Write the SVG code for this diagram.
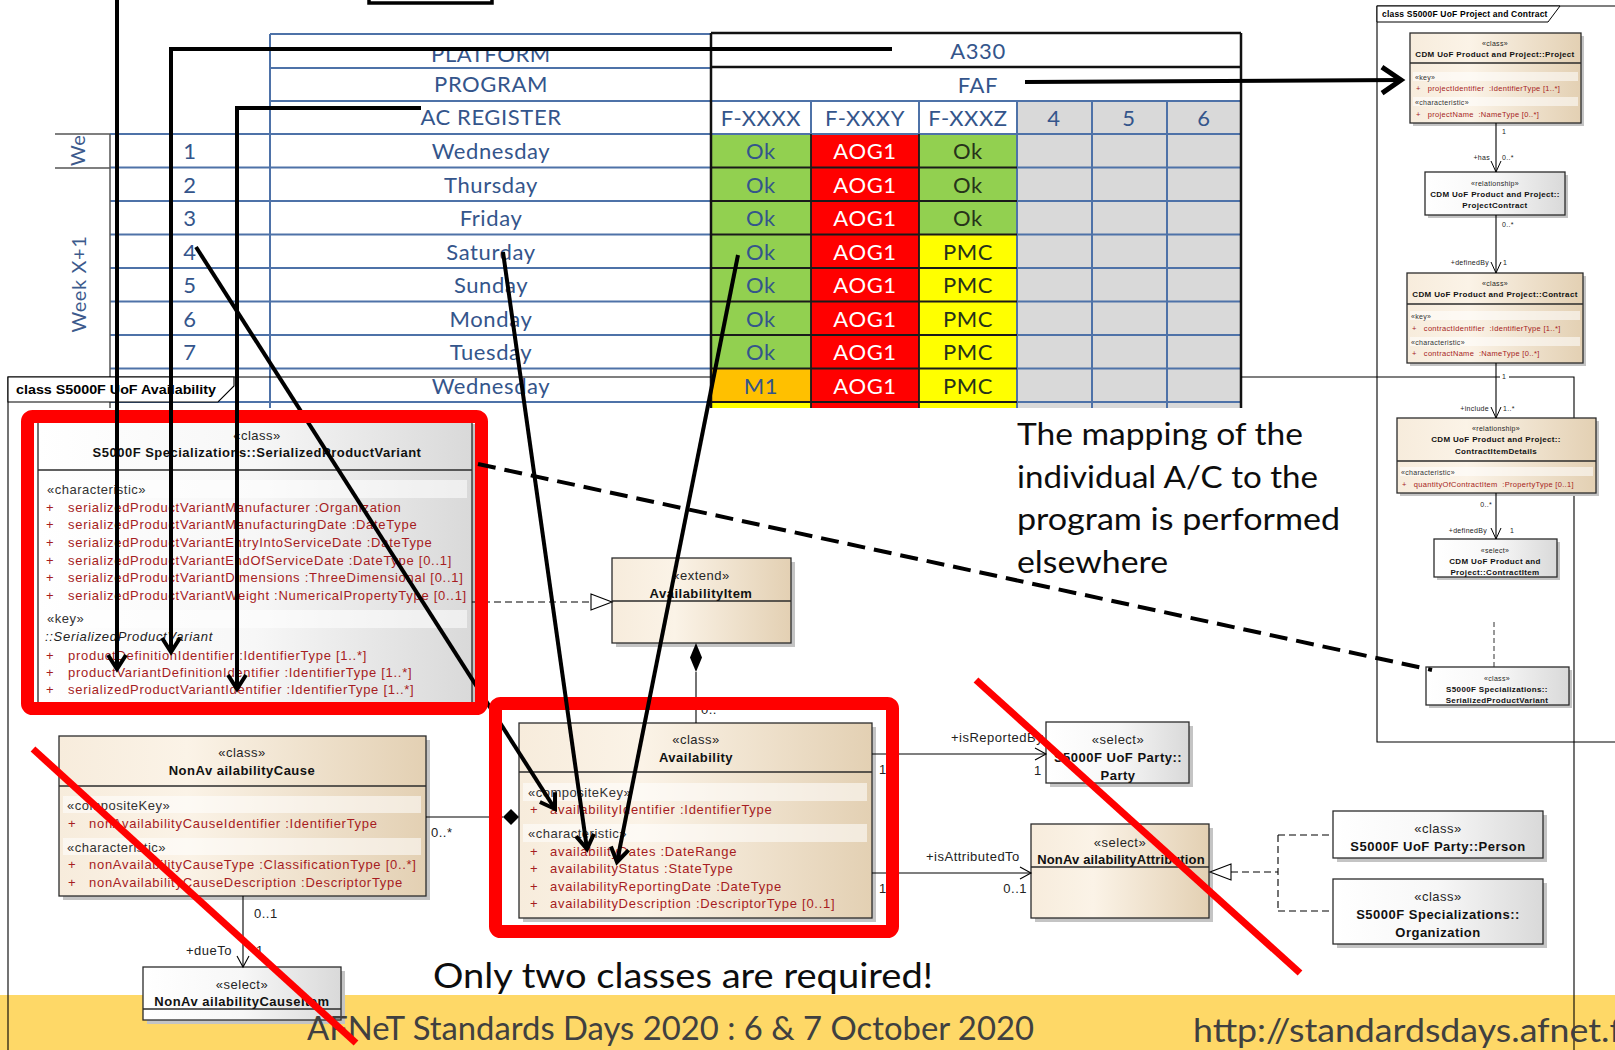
<svg xmlns="http://www.w3.org/2000/svg" width="1615" height="1050" viewBox="0 0 1615 1050">
<defs>
<style>
.tb{font-family:Lato,"Open Sans",sans-serif;font-size:22px;fill:#34558B;text-anchor:middle;letter-spacing:0.6px}
.tw{fill:#fff}
.tk{fill:#27331A}
.u{font-family:"Liberation Sans",Arial,sans-serif;font-size:13px;letter-spacing:0.5px}
.s{fill:#262626;text-anchor:middle}
.n{font-weight:bold;fill:#111;text-anchor:middle}
.c{fill:#333}
.a{fill:#A61C22;white-space:pre;letter-spacing:0.72px}
.l{fill:#222}
.r{text-anchor:end}
.sm{font-size:7.5px;letter-spacing:0.3px}
.ss{font-size:7px;letter-spacing:0.3px}
.sb{font-size:8px;font-weight:bold;fill:#111;text-anchor:middle;letter-spacing:0.35px}
.bx{stroke:#2b2b2b;stroke-width:1.3}
.sh{fill:#c4c4c4}
.band{fill:#fff;opacity:.55}
.gl{stroke:#4E72A8;stroke-width:2;fill:none}
.dk{stroke:#1a1a1a;stroke-width:1.8;fill:none}
.blk{stroke:#000;stroke-width:4;fill:none}
.thin{stroke:#000;stroke-width:1.1;fill:none}
.dash{stroke:#000;stroke-width:1.1;fill:none;stroke-dasharray:7 4}
.red{fill:none;stroke:#FF0000;stroke-width:13}
.rx{stroke:#FF0000;stroke-width:7;stroke-linecap:butt}
.big{font-family:Lato,"Open Sans",sans-serif;fill:#0d0d0d}
</style>
<linearGradient id="be" x1="0" y1="0" x2="1" y2="0">
<stop offset="0" stop-color="#F7ECDC"/><stop offset="0.35" stop-color="#FBF3E7"/><stop offset="1" stop-color="#E3D0B3"/>
</linearGradient>
<linearGradient id="gr" x1="0" y1="0" x2="1" y2="0">
<stop offset="0" stop-color="#FFFFFF"/><stop offset="0.5" stop-color="#F7F7F7"/><stop offset="1" stop-color="#D9D9D9"/>
</linearGradient>
<marker id="ah" viewBox="-18 -12 22 24" refX="0" refY="0" markerWidth="22" markerHeight="24" markerUnits="userSpaceOnUse" orient="auto">
<path d="M-14,-9 L0,0 L-14,9" fill="none" stroke="#000" stroke-width="4"/>
</marker>
<marker id="ahb" viewBox="-24 -16 28 32" refX="0" refY="0" markerWidth="28" markerHeight="32" markerUnits="userSpaceOnUse" orient="auto">
<path d="M-20,-13 L-1,0 L-20,13" fill="none" stroke="#000" stroke-width="5"/>
</marker>
<marker id="oa" viewBox="-13 -8 15 16" refX="0" refY="0" markerWidth="15" markerHeight="16" markerUnits="userSpaceOnUse" orient="auto">
<path d="M-11,-6 L0,0 L-11,6" fill="none" stroke="#000" stroke-width="1.1"/>
</marker>
<marker id="os" viewBox="-12 -7 14 14" refX="0" refY="0" markerWidth="14" markerHeight="14" markerUnits="userSpaceOnUse" orient="auto">
<path d="M-11,-5 L0,0 L-11,5" fill="none" stroke="#000" stroke-width="1"/>
</marker>
<clipPath id="weclip"><rect x="55" y="135" width="55" height="33"/></clipPath>
</defs>

<rect x="0" y="0" width="1615" height="1050" fill="#fff"/>
<!-- footer band -->
<rect x="0" y="995" width="1615" height="55" fill="#FED867"/>

<!-- availability planning sheet -->
<g id="sheet">
<rect x="1017" y="101" width="224" height="33" fill="#D9D9D9"/>
<rect x="711" y="134" width="100" height="234.5" fill="#92D050"/>
<rect x="711" y="368.5" width="100" height="33.5" fill="#FFC000"/>
<rect x="711" y="402" width="100" height="6" fill="#FFFF00"/>
<rect x="811" y="134" width="108" height="274" fill="#FF0000"/>
<rect x="919" y="134" width="98" height="100.5" fill="#92D050"/>
<rect x="919" y="234.5" width="98" height="173.5" fill="#FFFF00"/>
<rect x="1017" y="134" width="224" height="274" fill="#D9D9D9"/>
<path class="gl" d="M270,34H711 M270,68H711 M270,101H1241 M110,134H1241 M110,167.5H711 M110,201H711 M110,234.5H711 M110,268H711 M110,301.5H711 M110,335H711 M110,368.5H711 M110,402H711 M1017,167.5H1241 M1017,201H1241 M1017,234.5H1241 M1017,268H1241 M1017,301.5H1241 M1017,335H1241 M1017,368.5H1241 M1017,402H1241 M270,34V408 M811,101V134 M919,101V134 M1017,101V408 M1092,101V408 M1167,101V408"/>
<path class="dk" d="M711,167.5H1017 M711,201H1017 M711,234.5H1017 M711,268H1017 M711,301.5H1017 M711,335H1017 M711,368.5H1017 M711,402H1017 M811,134V408 M919,134V408"/>
<path d="M55,134H110 M55,168H110 M110,134V408" stroke="#555" stroke-width="1.5" fill="none"/>
<path d="M711,33V408 M1241,33V408 M711,33H1241 M711,67H1241" stroke="#111" stroke-width="2.5" fill="none"/>
<g clip-path="url(#weclip)"><text class="tb" style="font-size:20px;text-anchor:start;fill:#3C5A8C" transform="translate(85,166) rotate(-90)">Week X</text></g>
<text class="tb" style="font-size:20px;fill:#3C5A8C" transform="translate(86,284) rotate(-90)">Week X+1</text>
<text class="tb" x="491" y="62">PLATFORM</text>
<text class="tb" x="491" y="92">PROGRAM</text>
<text class="tb" x="491" y="125">AC REGISTER</text>
<text class="tb" x="978" y="59">A330</text>
<text class="tb" x="978" y="93">FAF</text>
<text class="tb" x="761" y="126">F-XXXX</text>
<text class="tb" x="865" y="126">F-XXXY</text>
<text class="tb" x="968" y="126">F-XXXZ</text>
<text class="tb" x="1054" y="126">4</text>
<text class="tb" x="1129" y="126">5</text>
<text class="tb" x="1204" y="126">6</text>
<text class="tb" x="190" y="159">1</text>
<text class="tb" x="190" y="192.5">2</text>
<text class="tb" x="190" y="226">3</text>
<text class="tb" x="190" y="259.5">4</text>
<text class="tb" x="190" y="293">5</text>
<text class="tb" x="190" y="326.5">6</text>
<text class="tb" x="190" y="360">7</text>
<text class="tb" x="491" y="159">Wednesday</text>
<text class="tb" x="491" y="192.5">Thursday</text>
<text class="tb" x="491" y="226">Friday</text>
<text class="tb" x="491" y="259.5">Saturday</text>
<text class="tb" x="491" y="293">Sunday</text>
<text class="tb" x="491" y="326.5">Monday</text>
<text class="tb" x="491" y="360">Tuesday</text>
<text class="tb" x="491" y="393.5">Wednesday</text>
<text class="tb" x="761" y="159">Ok</text>
<text class="tb" x="761" y="192.5">Ok</text>
<text class="tb" x="761" y="226">Ok</text>
<text class="tb" x="761" y="259.5">Ok</text>
<text class="tb" x="761" y="293">Ok</text>
<text class="tb" x="761" y="326.5">Ok</text>
<text class="tb" x="761" y="360">Ok</text>
<text class="tb" x="761" y="393.5">M1</text>
<text class="tb tw" x="865" y="159">AOG1</text>
<text class="tb tw" x="865" y="192.5">AOG1</text>
<text class="tb tw" x="865" y="226">AOG1</text>
<text class="tb tw" x="865" y="259.5">AOG1</text>
<text class="tb tw" x="865" y="293">AOG1</text>
<text class="tb tw" x="865" y="326.5">AOG1</text>
<text class="tb tw" x="865" y="360">AOG1</text>
<text class="tb tw" x="865" y="393.5">AOG1</text>
<text class="tb tk" x="968" y="159">Ok</text>
<text class="tb tk" x="968" y="192.5">Ok</text>
<text class="tb tk" x="968" y="226">Ok</text>
<text class="tb tk" x="968" y="259.5">PMC</text>
<text class="tb tk" x="968" y="293">PMC</text>
<text class="tb tk" x="968" y="326.5">PMC</text>
<text class="tb tk" x="968" y="360">PMC</text>
<text class="tb tk" x="968" y="393.5">PMC</text>
</g>

<!-- frame: class S5000F UoF Availability -->
<g id="frame-availability">
<path class="thin" d="M8,1050V377H711 M1241,377H1574V1050"/>
<path d="M8,377H234V386L218,402H8Z" fill="#fff" stroke="#000" stroke-width="1.1"/>
<text class="u" x="16" y="394" style="font-size:12px;font-weight:bold;letter-spacing:0" textLength="200" lengthAdjust="spacingAndGlyphs">class S5000F UoF Availability</text>
</g>

<!-- frame: class S5000F UoF Project and Contract -->
<g id="frame-project">
<path class="thin" d="M1615,6H1377V742H1615"/>
<path d="M1377,6H1560L1548,22H1377Z" fill="#fff" stroke="#000" stroke-width="1"/>
<text class="u" x="1382" y="17" style="font-size:8.5px;font-weight:bold;letter-spacing:0.2px">class S5000F UoF Project and Contract</text>
</g>

<g id="project">
<rect class="sh" x="1413" y="36" width="171" height="90"/>
<rect x="1410" y="33" width="171" height="90" fill="url(#be)" class="bx"/>
<line x1="1410" y1="63" x2="1581" y2="63" class="bx"/>
<rect x="1413" y="72" width="165" height="9" class="band"/>
<rect x="1413" y="97" width="165" height="9" class="band"/>
<text class="u ss s" x="1495" y="46">«class»</text>
<text class="u sb" x="1495" y="57">CDM UoF Product and Project::Project</text>
<text class="u ss c" x="1415" y="80">«key»</text>
<text class="u sm a" x="1416" y="91" xml:space="preserve">+   projectIdentifier  :IdentifierType [1..*]</text>
<text class="u ss c" x="1415" y="105">«characteristic»</text>
<text class="u sm a" x="1416" y="117" xml:space="preserve">+   projectName  :NameType [0..*]</text>
</g>
<g id="project-contract">
<rect class="sh" x="1428" y="175" width="140" height="43"/>
<rect x="1425" y="172" width="140" height="43" fill="url(#gr)" class="bx"/>
<text class="u ss s" x="1495" y="186">«relationship»</text>
<text class="u sb" x="1495" y="197">CDM UoF Product and Project::</text>
<text class="u sb" x="1495" y="208">ProjectContract</text>
</g>
<g id="contract">
<rect class="sh" x="1410" y="276" width="176" height="90"/>
<rect x="1407" y="273" width="176" height="90" fill="url(#be)" class="bx"/>
<line x1="1407" y1="304" x2="1583" y2="304" class="bx"/>
<rect x="1410" y="311" width="170" height="9" class="band"/>
<rect x="1410" y="337" width="170" height="9" class="band"/>
<text class="u ss s" x="1495" y="286">«class»</text>
<text class="u sb" x="1495" y="297">CDM UoF Product and Project::Contract</text>
<text class="u ss c" x="1411" y="319">«key»</text>
<text class="u sm a" x="1412" y="331" xml:space="preserve">+   contractIdentifier  :IdentifierType [1..*]</text>
<text class="u ss c" x="1411" y="345">«characteristic»</text>
<text class="u sm a" x="1412" y="356" xml:space="preserve">+   contractName  :NameType [0..*]</text>
</g>
<g id="contract-item-details">
<rect class="sh" x="1400" y="421" width="199" height="75"/>
<rect x="1397" y="418" width="199" height="75" fill="url(#be)" class="bx"/>
<line x1="1397" y1="461" x2="1596" y2="461" class="bx"/>
<rect x="1400" y="467" width="193" height="9" class="band"/>
<text class="u ss s" x="1496" y="431">«relationship»</text>
<text class="u sb" x="1496" y="442">CDM UoF Product and Project::</text>
<text class="u sb" x="1496" y="454">ContractItemDetails</text>
<text class="u ss c" x="1401" y="475">«characteristic»</text>
<text class="u sm a" x="1402" y="487" xml:space="preserve">+   quantityOfContractItem  :PropertyType [0..1]</text>
</g>
<g id="contract-item">
<rect class="sh" x="1437" y="542" width="123" height="38"/>
<rect x="1434" y="539" width="123" height="38" fill="url(#gr)" class="bx"/>
<text class="u ss s" x="1495" y="553">«select»</text>
<text class="u sb" x="1495" y="564">CDM UoF Product and</text>
<text class="u sb" x="1495" y="575">Project::ContractItem</text>
</g>
<g id="spv-ref">
<rect class="sh" x="1429" y="670" width="143" height="38"/>
<rect x="1426" y="667" width="143" height="38" fill="url(#gr)" class="bx"/>
<text class="u ss s" x="1497" y="681">«class»</text>
<text class="u sb" x="1497" y="692">S5000F Specializations::</text>
<text class="u sb" x="1497" y="703">SerializedProductVariant</text>
</g>

<g id="project-connectors">
<line class="thin" x1="1496" y1="123" x2="1496" y2="172" marker-end="url(#os)"/>
<line class="thin" x1="1496" y1="215" x2="1496" y2="273" marker-end="url(#os)"/>
<line class="thin" x1="1496" y1="363" x2="1496" y2="418" marker-end="url(#os)"/>
<line class="thin" x1="1496" y1="493" x2="1496" y2="539" marker-end="url(#os)"/>
<line x1="1494" y1="622" x2="1494" y2="667" stroke="#333" stroke-width="1" stroke-dasharray="5 3"/>
<text class="u ss l" x="1502" y="134">1</text>
<text class="u ss l r" x="1490" y="160">+has</text>
<text class="u ss l" x="1502" y="160">0..*</text>
<text class="u ss l" x="1502" y="227">0..*</text>
<text class="u ss l r" x="1489" y="265">+definedBy</text>
<text class="u ss l" x="1503" y="265">1</text>
<rect x="1500" y="371" width="9" height="9" fill="#fff"/>
<text class="u ss l" x="1502" y="379">1</text>
<text class="u ss l r" x="1489" y="411">+include</text>
<text class="u ss l" x="1503" y="411">1..*</text>
<text class="u ss l r" x="1492" y="507">0..*</text>
<text class="u ss l r" x="1487" y="533">+definedBy</text>
<text class="u ss l" x="1510" y="533">1</text>
</g>

<!-- availability model -->
<g id="serialized-product-variant">
<rect class="sh" x="42" y="424" width="434" height="283"/>
<rect x="38" y="420" width="434" height="283" fill="url(#gr)" class="bx"/>
<line x1="38" y1="470" x2="472" y2="470" class="bx"/>
<rect x="43" y="480" width="424" height="18" class="band"/>
<rect x="43" y="610" width="424" height="18" class="band"/>
<text class="u s" x="257" y="440">«class»</text>
<text class="u n" x="257" y="457">S5000F Specializations::SerializedProductVariant</text>
<text class="u c" x="47" y="494">«characteristic»</text>
<g class="u a" xml:space="preserve">
<text x="46" y="512">+</text><text x="68" y="512">serializedProductVariantManufacturer  :Organization</text>
<text x="46" y="529">+</text><text x="68" y="529">serializedProductVariantManufacturingDate  :DateType</text>
<text x="46" y="547">+</text><text x="68" y="547">serializedProductVariantEntryIntoServiceDate  :DateType</text>
<text x="46" y="565">+</text><text x="68" y="565">serializedProductVariantEndOfServiceDate  :DateType [0..1]</text>
<text x="46" y="582">+</text><text x="68" y="582">serializedProductVariantDimensions  :ThreeDimensional [0..1]</text>
<text x="46" y="600">+</text><text x="68" y="600">serializedProductVariantWeight  :NumericalPropertyType [0..1]</text>
</g>
<text class="u c" x="47" y="623">«key»</text>
<text class="u l" x="45" y="641" style="font-style:italic;letter-spacing:0.7px">::SerializedProductVariant</text>
<g class="u a" xml:space="preserve">
<text x="46" y="660">+</text><text x="68" y="660">productDefinitionIdentifier  :IdentifierType [1..*]</text>
<text x="46" y="677">+</text><text x="68" y="677">productVariantDefinitionIdentifier  :IdentifierType [1..*]</text>
<text x="46" y="694">+</text><text x="68" y="694">serializedProductVariantIdentifier  :IdentifierType [1..*]</text>
</g>
</g>

<g id="availability-item">
<rect class="sh" x="616" y="562" width="179" height="85"/>
<rect x="612" y="558" width="179" height="85" fill="url(#be)" class="bx"/>
<line x1="612" y1="601" x2="791" y2="601" class="bx"/>
<text class="u s" x="701" y="580">«extend»</text>
<text class="u n" x="701" y="598">AvailabilityItem</text>
</g>

<g id="availability">
<rect class="sh" x="523" y="727" width="353" height="195"/>
<rect x="519" y="723" width="353" height="195" fill="url(#be)" class="bx"/>
<line x1="519" y1="772" x2="872" y2="772" class="bx"/>
<rect x="523" y="783" width="344" height="18" class="band"/>
<rect x="523" y="824" width="344" height="18" class="band"/>
<text class="u s" x="696" y="744">«class»</text>
<text class="u n" x="696" y="762">Availability</text>
<text class="u c" x="528" y="797">«compositeKey»</text>
<g class="u a" xml:space="preserve">
<text x="530" y="814">+</text><text x="550" y="814">availabilityIdentifier  :IdentifierType</text>
</g>
<text class="u c" x="528" y="838">«characteristic»</text>
<g class="u a" xml:space="preserve">
<text x="530" y="856">+</text><text x="550" y="856">availabilityDates  :DateRange</text>
<text x="530" y="873">+</text><text x="550" y="873">availabilityStatus  :StateType</text>
<text x="530" y="891">+</text><text x="550" y="891">availabilityReportingDate  :DateType</text>
<text x="530" y="908">+</text><text x="550" y="908">availabilityDescription  :DescriptorType [0..1]</text>
</g>
</g>

<g id="non-availability-cause">
<rect class="sh" x="63" y="740" width="367" height="160"/>
<rect x="59" y="736" width="367" height="160" fill="url(#be)" class="bx"/>
<line x1="59" y1="786" x2="426" y2="786" class="bx"/>
<rect x="63" y="796" width="358" height="17" class="band"/>
<rect x="63" y="838" width="358" height="17" class="band"/>
<text class="u s" x="242" y="757">«class»</text>
<text class="u n" x="242" y="775">NonAv ailabilityCause</text>
<text class="u c" x="67" y="810">«compositeKey»</text>
<g class="u a" xml:space="preserve">
<text x="68" y="828">+</text><text x="89" y="828">nonAvailabilityCauseIdentifier  :IdentifierType</text>
</g>
<text class="u c" x="67" y="852">«characteristic»</text>
<g class="u a" xml:space="preserve">
<text x="68" y="869">+</text><text x="89" y="869">nonAvailabilityCauseType  :ClassificationType [0..*]</text>
<text x="68" y="887">+</text><text x="89" y="887">nonAvailabilityCauseDescription  :DescriptorType</text>
</g>
</g>

<g id="non-availability-cause-item">
<rect class="sh" x="147" y="971" width="198" height="53"/>
<rect x="143" y="967" width="198" height="53" fill="url(#gr)" class="bx"/>
<line x1="143" y1="1009" x2="341" y2="1009" class="bx"/>
<text class="u s" x="242" y="989">«select»</text>
<text class="u n" x="242" y="1006">NonAv ailabilityCauseItem</text>
</g>

<g id="party">
<rect class="sh" x="1050" y="726" width="143" height="61"/>
<rect x="1046" y="722" width="143" height="61" fill="url(#gr)" class="bx"/>
<text class="u s" x="1118" y="744">«select»</text>
<text class="u n" x="1118" y="762">S5000F UoF Party::</text>
<text class="u n" x="1118" y="780">Party</text>
</g>

<g id="non-availability-attribution">
<rect class="sh" x="1035" y="828" width="178" height="94"/>
<rect x="1031" y="824" width="178" height="94" fill="url(#be)" class="bx"/>
<line x1="1031" y1="867" x2="1209" y2="867" class="bx"/>
<text class="u s" x="1120" y="847">«select»</text>
<text class="u n" x="1121" y="864" style="letter-spacing:0.15px">NonAv ailabilityAttribution</text>
</g>

<g id="person">
<rect class="sh" x="1337" y="815" width="210" height="47"/>
<rect x="1333" y="811" width="210" height="47" fill="url(#gr)" class="bx"/>
<text class="u s" x="1438" y="833">«class»</text>
<text class="u n" x="1438" y="851">S5000F UoF Party::Person</text>
</g>

<g id="organization">
<rect class="sh" x="1337" y="883" width="210" height="65"/>
<rect x="1333" y="879" width="210" height="65" fill="url(#gr)" class="bx"/>
<text class="u s" x="1438" y="901">«class»</text>
<text class="u n" x="1438" y="919">S5000F Specializations::</text>
<text class="u n" x="1438" y="937">Organization</text>
</g>

<g id="uml-connectors">
<line class="dash" x1="472" y1="602" x2="591" y2="602"/>
<path d="M591,594L612,602L591,610Z" fill="#fff" stroke="#000" stroke-width="1.1"/>
<line class="thin" x1="696" y1="672" x2="696" y2="723"/>
<path d="M696,643L702,657.5L696,672L690,657.5Z" fill="#000"/>
<text class="u l" x="701" y="714">0..*</text>
<line class="thin" x1="426" y1="817" x2="503" y2="817"/>
<path d="M503,817L511,809L519,817L511,825Z" fill="#000"/>
<text class="u l" x="431" y="837">0..*</text>
<line class="thin" x1="243" y1="896" x2="243" y2="967" marker-end="url(#oa)"/>
<text class="u l" x="254" y="918">0..1</text>
<text class="u l r" x="232" y="955">+dueTo</text>
<text class="u l" x="256" y="955">1</text>
<line class="thin" x1="872" y1="754" x2="1046" y2="754" marker-end="url(#oa)"/>
<text class="u l" x="951" y="742">+isReportedBy</text>
<text class="u l" x="879" y="774">1</text>
<text class="u l" x="1034" y="775">1</text>
<line class="thin" x1="872" y1="873" x2="1031" y2="873" marker-end="url(#oa)"/>
<text class="u l" x="926" y="861">+isAttributedTo</text>
<text class="u l" x="879" y="893">1</text>
<text class="u l r" x="1027" y="893">0..1</text>
<path class="dash" d="M1231,872H1278 M1278,835V911 M1278,835H1333 M1278,911H1333"/>
<path d="M1231,864L1210,872L1231,880Z" fill="#fff" stroke="#000" stroke-width="1.1"/>
</g>

<!-- annotations -->
<g id="notes">
<text class="big" x="1017" y="445" style="font-size:31px" textLength="286" lengthAdjust="spacingAndGlyphs">The mapping of the</text>
<text class="big" x="1017" y="488" style="font-size:31px" textLength="301" lengthAdjust="spacingAndGlyphs">individual A/C to the</text>
<text class="big" x="1017" y="530" style="font-size:31px" textLength="323" lengthAdjust="spacingAndGlyphs">program is performed</text>
<text class="big" x="1017" y="573" style="font-size:31px" textLength="151" lengthAdjust="spacingAndGlyphs">elsewhere</text>
<text class="big" x="433" y="988" style="font-size:35px" textLength="500" lengthAdjust="spacingAndGlyphs">Only two classes are required!</text>
</g>

<g id="footer">
<text class="big" x="307" y="1040" style="font-size:33px;fill:#404040" textLength="727" lengthAdjust="spacingAndGlyphs">AFNeT Standards Days 2020 : 6 &amp; 7 October 2020</text>
<text class="big" x="1193" y="1042" style="font-size:33px;fill:#404040" textLength="442" lengthAdjust="spacingAndGlyphs">http://standardsdays.afnet.fr</text>
</g>

<!-- callout arrows linking the sheet to the model -->
<g id="callouts">
<line class="blk" x1="196" y1="247" x2="555" y2="809" marker-end="url(#ah)"/>
<rect class="red" x="27.5" y="416.5" width="454" height="292" rx="5"/>
<rect class="red" x="495.5" y="703.5" width="397" height="228" rx="5"/>
<rect x="369" y="-20" width="123" height="23" fill="none" stroke="#000" stroke-width="3.5"/>
<path class="blk" d="M117,0V669" marker-end="url(#ah)"/>
<path class="blk" d="M892,49H171V652" marker-end="url(#ah)"/>
<path class="blk" d="M421,108H237V689" marker-end="url(#ah)"/>
<line class="blk" x1="503" y1="252" x2="587" y2="849" marker-end="url(#ah)"/>
<line class="blk" x1="738" y1="255" x2="617" y2="862" marker-end="url(#ah)"/>
<line class="blk" x1="1025" y1="82" x2="1402" y2="80" marker-end="url(#ahb)"/>
<line x1="478" y1="464" x2="1432" y2="670" stroke="#000" stroke-width="4" stroke-dasharray="18 9"/>
</g>

<!-- strike-outs -->
<g id="strikes">
<line class="rx" x1="33" y1="749" x2="356" y2="1043"/>
<line class="rx" x1="976" y1="680" x2="1300" y2="973"/>
</g>
</svg>
